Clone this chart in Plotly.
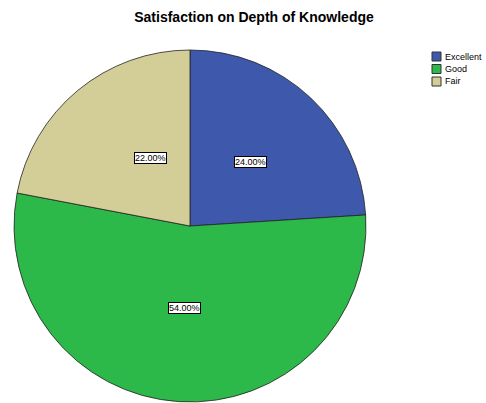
import math
import plotly.graph_objects as go

labels = ["Excellent", "Good", "Fair"]
values = [24.0, 54.0, 22.0]
colors = ["#3E58AC", "#2DB84A", "#D3CE97"]

W, H = 486, 403


def fx(x):
    return x / W


def fy(y):
    return 1 - y / H


# pie area in screen pixels
px0, px1 = 14, 366
py0, py1 = 50, 402
FONT = "Arial, Liberation Sans, sans-serif"

fig = go.Figure()
fig.add_trace(go.Pie(
    labels=labels,
    values=values,
    sort=False,
    direction="clockwise",
    rotation=0,
    marker=dict(colors=colors, line=dict(color="#222222", width=0.8)),
    textinfo="none",
    hoverinfo="label+percent",
    showlegend=False,
    domain=dict(x=[fx(px0), fx(px1)], y=[fy(py1), fy(py0)]),
))

# percentage labels in boxes, placed in the middle of each slice
cx = (px0 + px1) / 2
cy = (py0 + py1) / 2
r = (px1 - px0) / 2
total = sum(values)
cum = 0
for v in values:
    mid = (cum + v / 2) / total * 2 * math.pi
    cum += v
    x = cx + 0.5 * r * math.sin(mid)
    y = cy - 0.5 * r * math.cos(mid)
    fig.add_annotation(
        x=fx(x), y=fy(y), xref="paper", yref="paper",
        text=f"{v / total * 100:.2f}%", showarrow=False,
        font=dict(family=FONT, size=9, color="black"),
        bgcolor="white", bordercolor="black", borderwidth=1, borderpad=0,
    )

# compact legend like the SPSS output
lx, ly, step, box = 432, 52, 12.5, 9
for i, (lab, col) in enumerate(zip(labels, colors)):
    top = ly + i * step
    fig.add_shape(
        type="rect", xref="paper", yref="paper",
        x0=fx(lx), x1=fx(lx + box), y0=fy(top + box), y1=fy(top),
        fillcolor=col, line=dict(color="#333333", width=1),
    )
    fig.add_annotation(
        x=fx(lx + box + 1.5), y=fy(top + box / 2), xref="paper", yref="paper",
        text=lab, showarrow=False, xanchor="left", yanchor="middle",
        font=dict(family=FONT, size=9, color="black"),
    )

fig.update_layout(
    width=W, height=H,
    margin=dict(l=0, r=0, t=0, b=0, autoexpand=False),
    paper_bgcolor="white",
    plot_bgcolor="white",
    showlegend=False,
    title=dict(
        text="<b>Satisfaction on Depth of Knowledge</b>",
        x=fx(254), y=fy(17), xanchor="center", yanchor="middle",
        font=dict(family=FONT, size=14, color="black"),
    ),
)

# drop the default body margin so the figure fills the window exactly
fig.write_html("out.html", config={"displayModeBar": False},
               post_script="document.body.style.margin='0';")
